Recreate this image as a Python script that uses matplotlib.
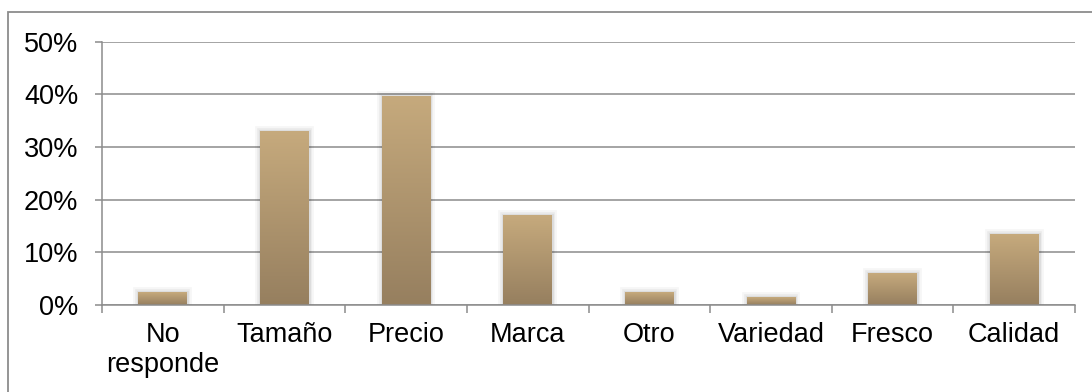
import numpy as np
import matplotlib
matplotlib.use("Agg")
import matplotlib.pyplot as plt
from matplotlib.patches import Rectangle
from matplotlib.colors import LinearSegmentedColormap
from matplotlib.ticker import FuncFormatter, FixedLocator
import matplotlib.patheffects as pe

categories = ["No\nresponde", "Tamaño", "Precio", "Marca", "Otro", "Variedad", "Fresco", "Calidad"]
values = [0.024, 0.330, 0.397, 0.170, 0.024, 0.015, 0.060, 0.134]
y_ticks = [0.0, 0.1, 0.2, 0.3, 0.4, 0.5]

plt.rcParams["font.family"] = ["Liberation Sans", "DejaVu Sans"]

W, H = 1092, 392
fig = plt.figure(figsize=(W / 100, H / 100), dpi=100)
fig.patch.set_facecolor("white")

# outer chart frame
frame = Rectangle((8 / W, -0.05), 1.1, 1 - 12 / H + 0.05, transform=fig.transFigure,
                  fill=False, edgecolor="#8c8c8c", linewidth=1.3, clip_on=False)
fig.patches.append(frame)

ax = fig.add_axes([102 / W, (H - 305) / H, (1075 - 102) / W, (305 - 41.7) / H])

x = np.arange(len(categories))
bars = ax.bar(x, values, width=0.4, color="none", edgecolor="none", zorder=3)

ax.set_xlim(-0.5, len(categories) - 0.5)
ax.set_ylim(0, 0.5)

# gradient fill for each bar, light at the top and darker at the base
cmap = LinearSegmentedColormap.from_list("tan", ["#967f5f", "#c6aa7d"])
grad = np.linspace(0, 1, 256).reshape(-1, 1)
halo = [pe.Stroke(linewidth=7, foreground="#000000", alpha=0.035),
        pe.Stroke(linewidth=4, foreground="#000000", alpha=0.05),
        pe.Stroke(linewidth=2, foreground="#000000", alpha=0.06)]
for b in bars:
    x0, y0 = b.get_x(), b.get_y()
    w, h = b.get_width(), b.get_height()
    # soft shadow around the bar
    glow = Rectangle((x0, y0), w, h, facecolor="none", edgecolor="none", zorder=2,
                     path_effects=halo)
    ax.add_patch(glow)
    im = ax.imshow(grad, cmap=cmap, origin="lower", aspect="auto",
                   extent=(x0, x0 + w, y0, y0 + h), zorder=3, interpolation="bilinear")
    im.set_clip_path(b)

for s in ["top", "right"]:
    ax.spines[s].set_visible(False)
for s in ["left", "bottom"]:
    ax.spines[s].set_color("#8c8c8c")
    ax.spines[s].set_linewidth(1.1)
    ax.spines[s].set_zorder(4)

ax.yaxis.set_major_locator(FixedLocator(y_ticks))
ax.yaxis.set_major_formatter(FuncFormatter(lambda v, p: f"{v * 100:.0f}%"))
ax.grid(axis="y", color="#8c8c8c", linewidth=1.1, zorder=1)
ax.set_axisbelow(True)
ax.tick_params(axis="y", direction="out", length=5, width=1.1, color="#8c8c8c",
               pad=12, labelsize=19.5, labelcolor="black")

# tick marks at category boundaries, labels at category centres
ax.xaxis.set_major_locator(FixedLocator(np.arange(-0.5, len(categories), 1.0)))
ax.xaxis.set_major_formatter(FuncFormatter(lambda v, p: ""))
ax.xaxis.set_minor_locator(FixedLocator(x))
ax.set_xticks(x, categories, minor=True)
ax.tick_params(axis="x", which="major", direction="out", length=6, width=1.1, color="#8c8c8c")
ax.tick_params(axis="x", which="minor", length=0, pad=12, labelsize=19.5, labelcolor="black")

fig.savefig("out.png", dpi=100, facecolor="white")
